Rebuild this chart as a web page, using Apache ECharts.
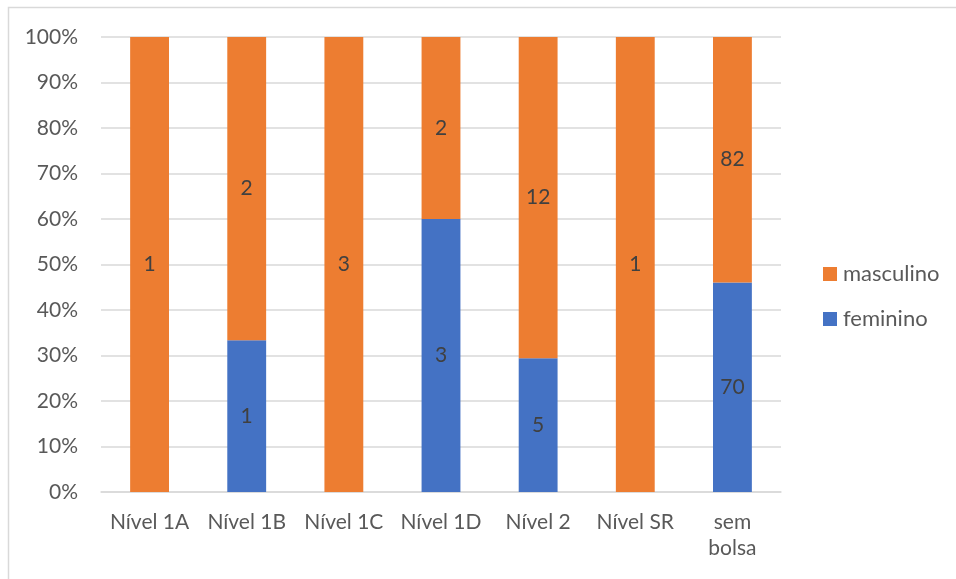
<!DOCTYPE html>
<html>
<head>
<meta charset="utf-8">
<style>
  html, body { margin: 0; padding: 0; background: #fff; }
  #chart { width: 956px; height: 579px; }
</style>
<script src="https://cdn.jsdelivr.net/npm/echarts@6/dist/echarts.min.js"></script>
</head>
<body>
<div id="chart"></div>
<script>
const categories = ['Nível 1A', 'Nível 1B', 'Nível 1C', 'Nível 1D', 'Nível 2', 'Nível SR', 'sem\nbolsa'];
const feminino = [0, 1, 0, 3, 5, 0, 70];
const masculino = [1, 2, 3, 2, 12, 1, 82];
const yTicks = [0, 10, 20, 30, 40, 50, 60, 70, 80, 90, 100];

// Share of each group within its category (100% stacked)
const totals = categories.map((_, i) => feminino[i] + masculino[i]);
const pct = (arr) => arr.map((v, i) => ({ value: totals[i] ? v / totals[i] * 100 : 0, count: v }));

const FONT = 'Lato, "Open Sans", sans-serif';
const chart = echarts.init(document.getElementById('chart'), null, { renderer: 'canvas' });

const labelStyle = {
  show: true,
  position: 'inside',
  color: '#404040',
  fontFamily: FONT,
  fontSize: 21,
  formatter: (p) => p.data.count ? String(p.data.count) : ''
};

chart.setOption({
  animation: false,
  backgroundColor: '#fff',
  graphic: [{
    type: 'rect',
    shape: { x: 8.5, y: 7.5, width: 1000, height: 1000 },
    style: { fill: 'none', stroke: '#d9d9d9', lineWidth: 1.5 },
    silent: true
  }],
  grid: { left: 101, right: 175, top: 37, bottom: 87 },
  legend: {
    orient: 'vertical',
    left: 823,
    top: 263,
    padding: 0,
    itemWidth: 14,
    itemHeight: 14,
    itemGap: 23,
    icon: 'rect',
    data: ['masculino', 'feminino'],
    textStyle: { color: '#595959', fontFamily: FONT, fontSize: 22, padding: [0, 0, 0, 1] }
  },
  xAxis: {
    type: 'category',
    data: categories,
    axisLine: { lineStyle: { color: '#d9d9d9', width: 1.5 } },
    axisTick: { show: false },
    axisLabel: { color: '#595959', fontFamily: FONT, fontSize: 21, margin: 17, lineHeight: 26, interval: 0 }
  },
  yAxis: {
    type: 'value',
    min: yTicks[0],
    max: yTicks[yTicks.length - 1],
    interval: 10,
    axisLine: { show: false },
    axisTick: { show: false },
    splitLine: { lineStyle: { color: '#d9d9d9', width: 1.5 } },
    axisLabel: { color: '#595959', fontFamily: FONT, fontSize: 21, margin: 23, formatter: '{value}%' }
  },
  series: [
    {
      name: 'feminino',
      type: 'bar',
      stack: 'total',
      barWidth: '40%',
      itemStyle: { color: '#4472c4' },
      label: labelStyle,
      data: pct(feminino)
    },
    {
      name: 'masculino',
      type: 'bar',
      stack: 'total',
      barWidth: '40%',
      itemStyle: { color: '#ed7d31' },
      label: labelStyle,
      data: pct(masculino)
    }
  ]
});
</script>
</body>
</html>
